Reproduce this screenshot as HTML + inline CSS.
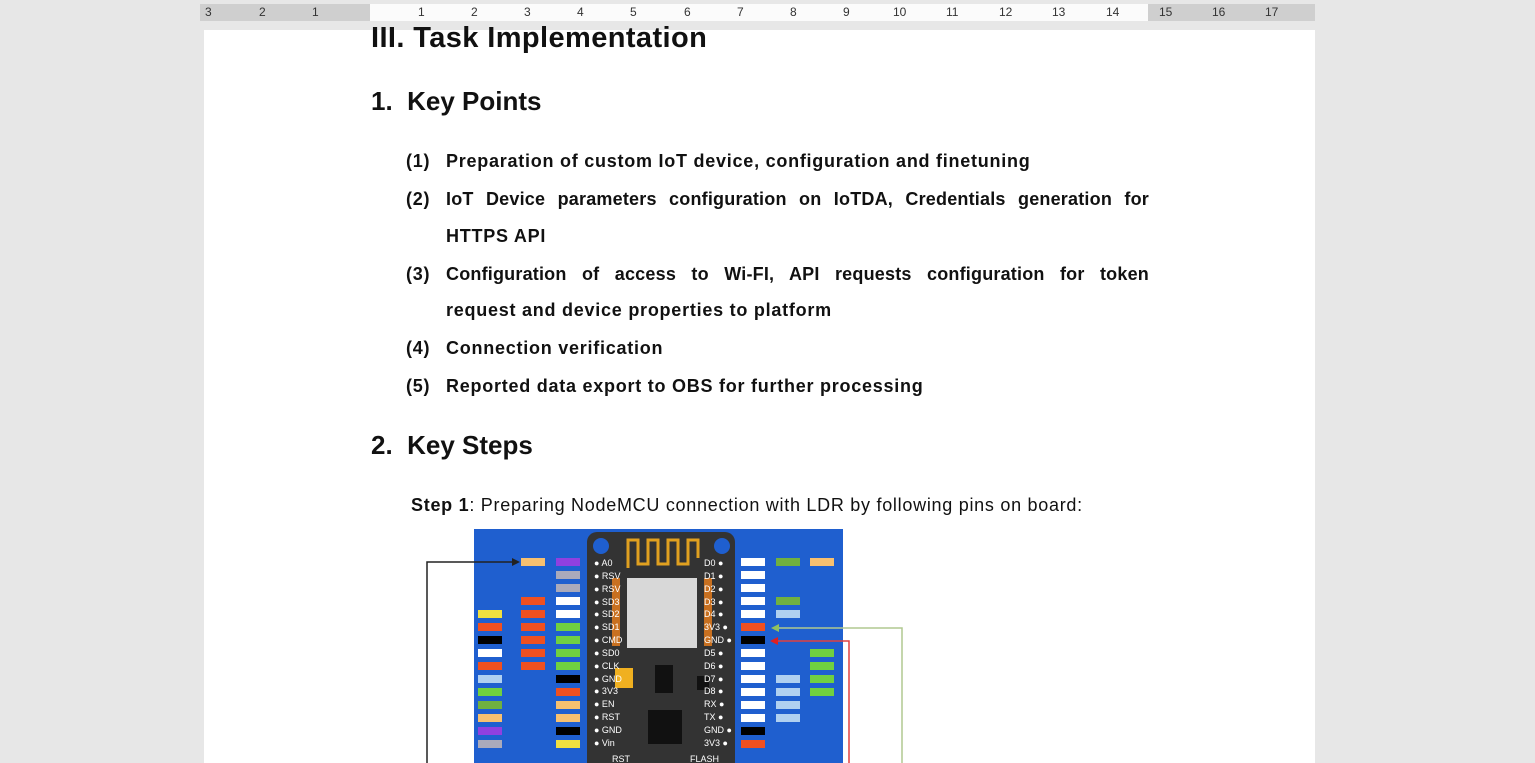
<!DOCTYPE html>
<html><head><meta charset="utf-8"><style>
body{margin:0;width:1535px;height:763px;background:#e7e7e7;position:relative;overflow:hidden;font-family:"Liberation Sans",Arial,sans-serif;color:#111}
.a{position:absolute;white-space:nowrap}
.h{font-weight:bold;font-size:26px}
.li{font-weight:bold;font-size:18px;letter-spacing:0.75px}
.j{text-align:justify;text-align-last:justify;width:703px;white-space:normal;letter-spacing:0.2px}
.ruler{position:absolute;top:4px;height:17px;font-size:12px;color:#444;line-height:17px}
.rn{position:absolute;top:4px;font-size:12px;line-height:17px;color:#333}
</style></head><body>
<div class="ruler" style="left:200px;width:1115px;background:#cfcfcf"></div>
<div class="ruler" style="left:370px;width:778px;background:#fbfbfb"></div>
<span class="rn" style="left:205px">3</span><span class="rn" style="left:259px">2</span><span class="rn" style="left:312px">1</span>
<span class="rn" style="left:418px">1</span><span class="rn" style="left:471px">2</span><span class="rn" style="left:524px">3</span><span class="rn" style="left:577px">4</span><span class="rn" style="left:630px">5</span><span class="rn" style="left:684px">6</span><span class="rn" style="left:737px">7</span><span class="rn" style="left:790px">8</span><span class="rn" style="left:843px">9</span><span class="rn" style="left:893px">10</span><span class="rn" style="left:946px">11</span><span class="rn" style="left:999px">12</span><span class="rn" style="left:1052px">13</span><span class="rn" style="left:1106px">14</span><span class="rn" style="left:1159px">15</span><span class="rn" style="left:1212px">16</span><span class="rn" style="left:1265px">17</span>
<div style="position:absolute;left:204px;top:30px;width:1111px;height:733px;background:#fff"></div>
<div class="a h" style="left:371px;top:22px;font-size:29px;letter-spacing:0.4px">III. Task Implementation</div>
<div class="a h" style="left:371px;top:86px">1.&nbsp; Key Points</div>
<div class="a li" style="left:406px;top:151px">(1)</div>
<div class="a li" style="left:446px;top:151px">Preparation of custom IoT device, configuration and finetuning</div>
<div class="a li" style="left:406px;top:189px">(2)</div>
<div class="a li j" style="left:446px;top:189px">IoT Device parameters configuration on IoTDA, Credentials generation for</div>
<div class="a li" style="left:446px;top:226px">HTTPS API</div>
<div class="a li" style="left:406px;top:264px">(3)</div>
<div class="a li j" style="left:446px;top:264px">Configuration of access to Wi-FI, API requests configuration for token</div>
<div class="a li" style="left:446px;top:300px">request and device properties to platform</div>
<div class="a li" style="left:406px;top:338px">(4)</div>
<div class="a li" style="left:446px;top:338px">Connection verification</div>
<div class="a li" style="left:406px;top:376px">(5)</div>
<div class="a li" style="left:446px;top:376px">Reported data export to OBS for further processing</div>
<div class="a h" style="left:371px;top:430px">2.&nbsp; Key Steps</div>
<div class="a" style="left:411px;top:495px;font-size:18px;letter-spacing:0.72px"><b>Step 1</b>: Preparing NodeMCU connection with LDR by following pins on board:</div>
<svg class="a" style="left:0;top:0" width="1535" height="763">
<rect x="474" y="529" width="369" height="240" fill="#1f5fcf"/>
<rect x="587" y="532" width="148" height="240" rx="10" fill="#333"/>
<circle cx="601" cy="546" r="8" fill="#1f5fcf"/><circle cx="722" cy="546" r="8" fill="#1f5fcf"/>
<path d="M628 568V540h10v24h10v-24h10v24h10v-24h10v24h10v-24h10v18" stroke="#e0a020" stroke-width="3" fill="none"/>
<rect x="627" y="578" width="70" height="70" fill="#d8d8d8"/>
<rect x="612" y="578" width="8" height="68" fill="#c87020"/><rect x="704" y="578" width="8" height="68" fill="#c87020"/>
<rect x="615" y="668" width="18" height="20" fill="#f0b020"/>
<rect x="655" y="665" width="18" height="28" fill="#111"/>
<rect x="697" y="676" width="12" height="14" fill="#111"/>
<rect x="648" y="710" width="34" height="34" fill="#111"/>
<g font-size="9" fill="#fff" font-family="Liberation Sans,sans-serif">
<text x="594" y="566">● A0</text><text x="594" y="579">● RSV</text><text x="594" y="592">● RSV</text><text x="594" y="605">● SD3</text><text x="594" y="617">● SD2</text><text x="594" y="630">● SD1</text><text x="594" y="643">● CMD</text><text x="594" y="656">● SD0</text><text x="594" y="669">● CLK</text><text x="594" y="682">● GND</text><text x="594" y="694">● 3V3</text><text x="594" y="707">● EN</text><text x="594" y="720">● RST</text><text x="594" y="733">● GND</text><text x="594" y="746">● Vin</text>
<text x="704" y="566">D0 ●</text><text x="704" y="579">D1 ●</text><text x="704" y="592">D2 ●</text><text x="704" y="605">D3 ●</text><text x="704" y="617">D4 ●</text><text x="704" y="630">3V3 ●</text><text x="704" y="643">GND ●</text><text x="704" y="656">D5 ●</text><text x="704" y="669">D6 ●</text><text x="704" y="682">D7 ●</text><text x="704" y="694">D8 ●</text><text x="704" y="707">RX ●</text><text x="704" y="720">TX ●</text><text x="704" y="733">GND ●</text><text x="704" y="746">3V3 ●</text>
<text x="612" y="762">RST</text><text x="690" y="762">FLASH</text>
</g>
<g>
<rect x="521" y="558" width="24" height="8" fill="#f7c070"/><rect x="556" y="558" width="24" height="8" fill="#9040e0"/>
<rect x="556" y="571" width="24" height="8" fill="#aab"/><rect x="556" y="584" width="24" height="8" fill="#aab"/>
<rect x="521" y="597" width="24" height="8" fill="#f05020"/><rect x="556" y="597" width="24" height="8" fill="#fff"/>
<rect x="478" y="610" width="24" height="8" fill="#f0e040"/><rect x="521" y="610" width="24" height="8" fill="#f05020"/><rect x="556" y="610" width="24" height="8" fill="#fff"/>
<rect x="478" y="623" width="24" height="8" fill="#f05020"/><rect x="521" y="623" width="24" height="8" fill="#f05020"/><rect x="556" y="623" width="24" height="8" fill="#70d040"/>
<rect x="478" y="636" width="24" height="8" fill="#000"/><rect x="521" y="636" width="24" height="8" fill="#f05020"/><rect x="556" y="636" width="24" height="8" fill="#70d040"/>
<rect x="478" y="649" width="24" height="8" fill="#fff"/><rect x="521" y="649" width="24" height="8" fill="#f05020"/><rect x="556" y="649" width="24" height="8" fill="#70d040"/>
<rect x="478" y="662" width="24" height="8" fill="#f05020"/><rect x="521" y="662" width="24" height="8" fill="#f05020"/><rect x="556" y="662" width="24" height="8" fill="#70d040"/>
<rect x="478" y="675" width="24" height="8" fill="#b0d0f0"/><rect x="556" y="675" width="24" height="8" fill="#000"/>
<rect x="478" y="688" width="24" height="8" fill="#70d040"/><rect x="556" y="688" width="24" height="8" fill="#f05020"/>
<rect x="478" y="701" width="24" height="8" fill="#70b040"/><rect x="556" y="701" width="24" height="8" fill="#f7c070"/>
<rect x="478" y="714" width="24" height="8" fill="#f7c070"/><rect x="556" y="714" width="24" height="8" fill="#f7c070"/>
<rect x="478" y="727" width="24" height="8" fill="#9040e0"/><rect x="556" y="727" width="24" height="8" fill="#000"/>
<rect x="478" y="740" width="24" height="8" fill="#aab"/><rect x="556" y="740" width="24" height="8" fill="#f0e040"/>
<rect x="741" y="558" width="24" height="8" fill="#fff"/><rect x="776" y="558" width="24" height="8" fill="#70b040"/><rect x="810" y="558" width="24" height="8" fill="#f7c070"/>
<rect x="741" y="571" width="24" height="8" fill="#fff"/><rect x="741" y="584" width="24" height="8" fill="#fff"/>
<rect x="741" y="597" width="24" height="8" fill="#fff"/><rect x="776" y="597" width="24" height="8" fill="#70b040"/>
<rect x="741" y="610" width="24" height="8" fill="#fff"/><rect x="776" y="610" width="24" height="8" fill="#b0d0f0"/>
<rect x="741" y="623" width="24" height="8" fill="#f05020"/><rect x="741" y="636" width="24" height="8" fill="#000"/>
<rect x="741" y="649" width="24" height="8" fill="#fff"/><rect x="810" y="649" width="24" height="8" fill="#70d040"/>
<rect x="741" y="662" width="24" height="8" fill="#fff"/><rect x="810" y="662" width="24" height="8" fill="#70d040"/>
<rect x="741" y="675" width="24" height="8" fill="#fff"/><rect x="776" y="675" width="24" height="8" fill="#b0d0f0"/><rect x="810" y="675" width="24" height="8" fill="#70d040"/>
<rect x="741" y="688" width="24" height="8" fill="#fff"/><rect x="776" y="688" width="24" height="8" fill="#b0d0f0"/><rect x="810" y="688" width="24" height="8" fill="#70d040"/>
<rect x="741" y="701" width="24" height="8" fill="#fff"/><rect x="776" y="701" width="24" height="8" fill="#b0d0f0"/>
<rect x="741" y="714" width="24" height="8" fill="#fff"/><rect x="776" y="714" width="24" height="8" fill="#b0d0f0"/>
<rect x="741" y="727" width="24" height="8" fill="#000"/><rect x="741" y="740" width="24" height="8" fill="#f05020"/>
</g>
<path d="M427 763V562h88" stroke="#222" stroke-width="1.5" fill="none"/><path d="M520 562l-8-4v8z" fill="#222"/>
<path d="M902 763V628h-126" stroke="#b0c890" stroke-width="1.5" fill="none"/><path d="M771 628l8-4v8z" fill="#90c060"/>
<path d="M849 763V641h-73" stroke="#e04040" stroke-width="1.5" fill="none"/><path d="M770 641l8-4v8z" fill="#e02020"/>
</svg>
</body></html>
